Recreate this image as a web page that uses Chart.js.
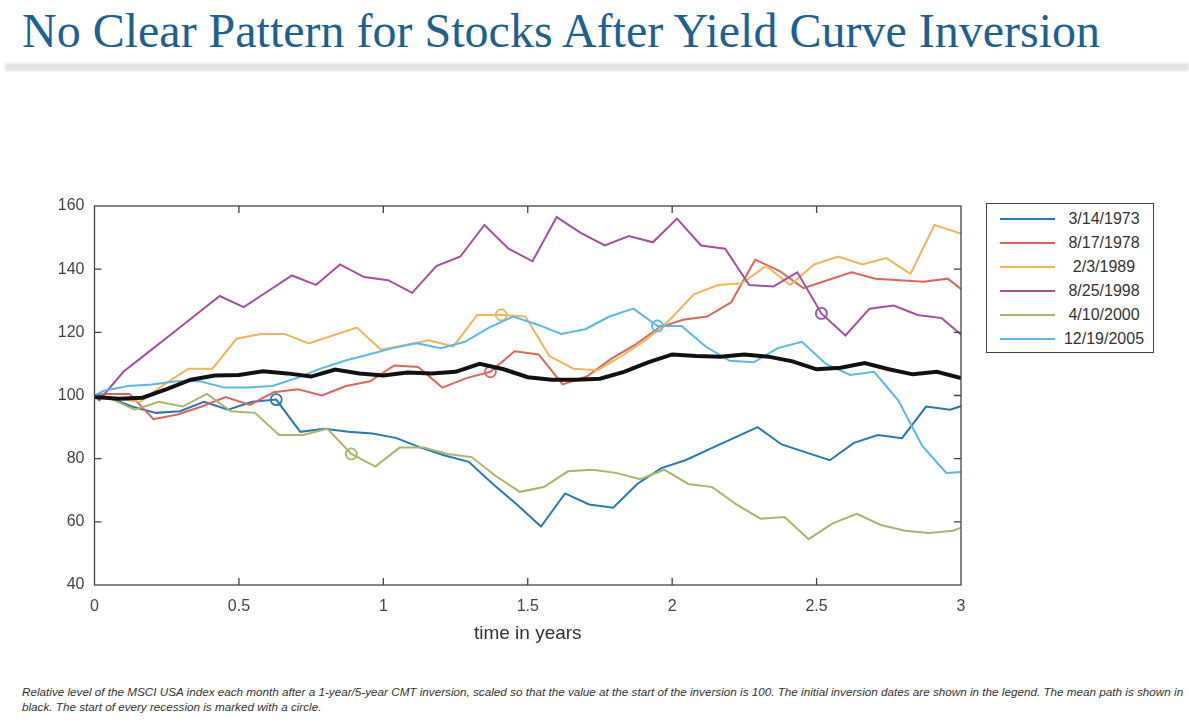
<!DOCTYPE html>
<html>
<head>
<meta charset="utf-8">
<script src="https://cdn.jsdelivr.net/npm/chart.js@4.4.1/dist/chart.umd.min.js"></script>
<style>
  html, body { margin: 0; padding: 0; background: #fff; }
  body { width: 1189px; height: 722px; position: relative; overflow: hidden; }
  #title {
    position: absolute; left: 22px; top: 9px;
    font-family: "Liberation Serif", serif; font-size: 43px; line-height: 43px;
    color: #1e6190; white-space: nowrap;
  }
  #band {
    position: absolute; left: 5px; top: 63px; width: 1184px; height: 8px;
    background: #e4e4e4; filter: blur(1px);
  }
  #chartBox { position: absolute; left: 0; top: 180px; width: 980px; height: 480px; }
  #legend {
    position: absolute; left: 986px; top: 203px; width: 166px; height: 148px;
    border: 1.3px solid #444; background: #fff;
  }
  .item { position: absolute; left: 0; width: 166px; height: 20px; }
  .item .ln { position: absolute; left: 13px; top: 9px; width: 55px; height: 2px; }
  .item .tx {
    position: absolute; left: 67px; width: 100px; top: 0; line-height: 20px; text-align: center;
    font-family: "Liberation Sans", Arial, sans-serif; font-size: 16px; color: #333;
  }
  #note {
    position: absolute; left: 22px; top: 685px;
    font-family: "Liberation Sans", Arial, sans-serif; font-style: italic;
    font-size: 11px; line-height: 13.5px; color: #333;
  }
  #note span { white-space: nowrap; display: inline-block; }
</style>
</head>
<body>
<div id="title">No Clear Pattern for Stocks After Yield Curve Inversion</div>
<div id="band"></div>
<div id="chartBox"><canvas id="myChart"></canvas></div>
<div id="legend"></div>
<div id="note"><span id="note1">Relative level of the MSCI USA index each month after a 1-year/5-year CMT inversion, scaled so that the value at the start of the inversion is 100. The initial inversion dates are shown in the legend. The mean path is shown in</span><br><span id="note2">black. The start of every recession is marked with a circle.</span></div>

<script>
// inversion dates (legend order)
const inversionDates = ['3/14/1973', '8/17/1978', '2/3/1989', '8/25/1998', '4/10/2000', '12/19/2005']

// fraction of a month from the inversion date to the first month-end
const firstMonthEnd = [0.55, 0.45, 0.9, 0.2, 0.67, 0.39]

// index value at the inversion (first) and then each month-end, start = 100
const idx1973 = [100, 99.5, 96.5, 94.5, 95, 98, 95.5, 98, 98.7, 88.5, 89.5, 88.5, 88, 86.5, 83.5, 81, 79,
  72, 65.5, 58.5, 69, 65.5, 64.5, 72, 77, 79.5, 83, 86.5, 90, 84.5, 82, 79.5, 85, 87.5, 86.5, 96.5, 95.5, 98]
const idx1978 = [100, 100.5, 100.5, 92.5, 94, 96.5, 99.5, 97, 101, 102, 100, 103, 104.5, 109.5, 109, 102.5, 105.5,
  107.5, 114, 113, 103.5, 106, 111.5, 116, 121.5, 124, 125, 129.5, 143, 139.5, 134, 136.5, 139, 137, 136.5, 136, 137, 131]
const idx1989 = [100, 99, 98, 103.5, 108.5, 108.5, 118, 119.5, 119.5, 116.5, 119, 121.5, 114.5, 116, 117.5, 115.5, 125.5,
  125.5, 125, 112.5, 108.5, 108, 112.5, 117.5, 124, 132, 135, 135.5, 141, 135, 141.5, 144, 141.5, 143.5, 138.5, 154, 151.5, 150]
const idx1998 = [100, 98.5, 107.5, 113.5, 119.5, 125.5, 131.5, 128, 133, 138, 135, 141.5, 137.5, 136.5, 132.5, 141, 144,
  154, 146.5, 142.5, 156.5, 151.5, 147.5, 150.5, 148.5, 156, 147.5, 146.5, 135, 134.5, 139, 126, 119, 127.5, 128.5, 125.5, 124.5, 118]
const idx2000 = [100, 99, 95.5, 98, 96.5, 100.5, 95, 94.5, 87.5, 87.5, 89.5, 81.5, 77.5, 83.5, 83.5, 81.5, 80.5,
  74.5, 69.5, 71, 76, 76.5, 75.5, 73.5, 76.5, 72, 71, 65.5, 61, 61.5, 54.5, 59.5, 62.5, 59, 57.2, 56.5, 57.2, 60]
const idx2005 = [100, 101.5, 103, 103.5, 104.5, 104.5, 102.5, 102.5, 103, 105.5, 108.5, 111, 113, 115, 116.5, 115, 117,
  121.5, 125, 122.5, 119.5, 121, 125, 127.5, 122, 122, 115.5, 111, 110.5, 115, 117, 110, 106.5, 107.5, 98.5, 84, 75.5, 76]

// mean path, one value per month 0..36
const meanPath = [99.5, 99, 99.3, 102, 105, 106.3, 106.5, 107.7, 107, 106, 108.2, 107, 106.3, 107.3, 107, 107.5, 110,
  108.3, 105.8, 105, 105, 105.3, 107.5, 110.5, 113, 112.5, 112.3, 113, 112.3, 110.8, 108.3, 108.8, 110.3, 108.3, 106.7, 107.5, 105.5]

// which point marks the start of the recession
const recessionPoint = [8, 17, 17, 31, 11, 24]

const xTicks = [0, 0.5, 1, 1.5, 2, 2.5, 3]
const xTickLabels = ['0', '0.5', '1', '1.5', '2', '2.5', '3']
const yTicks = [40, 60, 80, 100, 120, 140, 160]

const colors = ['#2778b6', '#e0645c', '#f1b55b', '#a2519d', '#a8b76b', '#5cb9e7']

const allSeries = [idx1973, idx1978, idx1989, idx1998, idx2000, idx2005]

const toPath = (vals, off) => vals.map((v, i) => ({ x: i === 0 ? 0 : (off + i - 1) / 12, y: v }))

const datasets = allSeries.map((vals, s) => ({
  label: inversionDates[s],
  data: toPath(vals, firstMonthEnd[s]),
  borderColor: colors[s],
  borderWidth: 2,
  pointRadius: ctx => ctx.dataIndex === recessionPoint[s] ? 5.5 : 0,
  pointBorderColor: colors[s],
  pointBackgroundColor: 'rgba(0,0,0,0)',
  pointBorderWidth: 1.8,
  tension: 0,
  order: 7 - s
}))
datasets.push({
  label: 'mean',
  data: meanPath.map((v, i) => ({ x: i / 12, y: v })),
  borderColor: '#111',
  borderWidth: 4,
  pointRadius: 0,
  tension: 0,
  order: 0
})

// box round the plot with inward ticks on all four sides
const framePlugin = {
  id: 'frame',
  afterDraw(chart) {
    const { ctx, chartArea: a, scales } = chart
    ctx.save()
    ctx.strokeStyle = '#444'
    ctx.lineWidth = 1.3
    ctx.strokeRect(a.left, a.top, a.right - a.left, a.bottom - a.top)
    ctx.beginPath()
    xTicks.slice(1, -1).forEach(v => {
      const px = scales.x.getPixelForValue(v)
      ctx.moveTo(px, a.bottom); ctx.lineTo(px, a.bottom - 7)
      ctx.moveTo(px, a.top); ctx.lineTo(px, a.top + 7)
    })
    yTicks.slice(1, -1).forEach(v => {
      const py = scales.y.getPixelForValue(v)
      ctx.moveTo(a.left, py); ctx.lineTo(a.left + 7, py)
      ctx.moveTo(a.right, py); ctx.lineTo(a.right - 7, py)
    })
    ctx.stroke()
    ctx.restore()
  }
}

const tickFont = { family: 'Liberation Sans', size: 16 }

new Chart(document.getElementById('myChart'), {
  type: 'line',
  data: { datasets },
  options: {
    responsive: true,
    maintainAspectRatio: false,
    animation: false,
    events: [],
    layout: { padding: { top: 26, right: 19, left: 0, bottom: 0 } },
    plugins: { legend: { display: false }, tooltip: { enabled: false } },
    scales: {
      x: {
        type: 'linear', min: 0, max: 3,
        afterBuildTicks: s => { s.ticks = xTicks.map(v => ({ value: v })) },
        afterFit: s => { s.height = 75 },
        grid: { display: false, drawTicks: false },
        border: { display: false },
        ticks: {
          font: tickFont, color: '#444', padding: 12, maxRotation: 0,
          callback: (v, i) => xTickLabels[i]
        },
        title: {
          display: true, text: 'time in years', color: '#333',
          font: { family: 'Liberation Sans', size: 19 },
          padding: { top: 0, bottom: 15 }
        }
      },
      y: {
        type: 'linear', min: 40, max: 160,
        afterBuildTicks: s => { s.ticks = yTicks.map(v => ({ value: v })) },
        afterFit: s => { s.width = 94.5 },
        grid: { display: false, drawTicks: false },
        border: { display: false },
        ticks: { font: tickFont, color: '#444', padding: 10 }
      }
    }
  },
  plugins: [framePlugin]
})

// legend
const legend = document.getElementById('legend')
inversionDates.forEach((d, i) => {
  const row = document.createElement('div')
  row.className = 'item'
  row.style.top = (5 + i * 24) + 'px'
  row.innerHTML = '<div class="ln" style="background:' + colors[i] + '"></div><div class="tx">' + d + '</div>'
  legend.appendChild(row)
})

// stretch the title and the long note line to their widths in the picture
function fitWidth(el, target) {
  const w = el.getBoundingClientRect().width
  const fs = parseFloat(getComputedStyle(el).fontSize)
  el.style.fontSize = (fs * target / w) + 'px'
}
fitWidth(document.getElementById('title'), 1078)
const n1 = document.getElementById('note1')
fitWidth(n1, 1163)
document.getElementById('note2').style.fontSize = n1.style.fontSize
</script>
</body>
</html>
